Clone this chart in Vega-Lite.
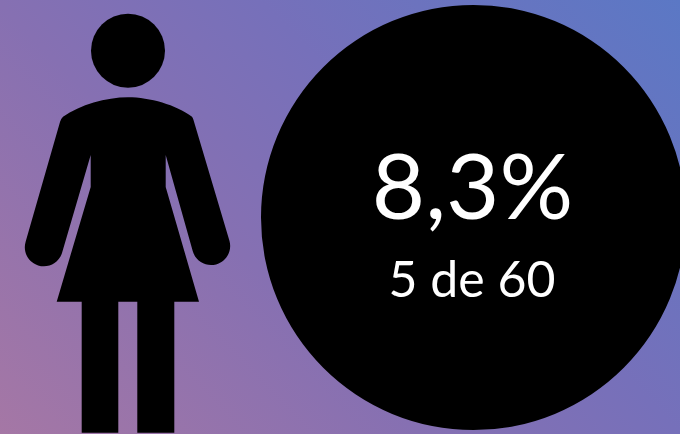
{
  "$schema": "https://vega.github.io/schema/vega-lite/v6.json",
  "width": 680,
  "height": 434,
  "padding": 0,
  "autosize": "none",
  "view": {"stroke": null},
  "config": {"axis": {"disable": true}},
  "datasets": {
    "icon": [{"part": "body", "x": 128, "y": 217}],
    "head": [{"part": "head", "x": 128, "y": 50.7}],
    "disc": [{"part": "disc", "x": 473.5, "y": 217.5}],
    "big": [{"label": "8,3%", "x": 472.5, "y": 219}],
    "small": [{"label": "5 de 60", "x": 472, "y": 297}]
  },
  "encoding": {
    "x": {"field": "x", "type": "quantitative", "scale": {"domain": [0, 680], "nice": false, "zero": false}, "axis": null},
    "y": {"field": "y", "type": "quantitative", "scale": {"domain": [434, 0], "nice": false, "zero": false}, "axis": null}
  },
  "layer": [
    {
      "data": {"values": [{"part": "background"}]},
      "mark": {
        "type": "rect",
        "color": {
          "gradient": "linear",
          "x1": 0, "y1": 1, "x2": 1.17, "y2": 0.275,
          "stops": [
            {"offset": 0, "color": "#a577a5"},
            {"offset": 0.38, "color": "#8670b2"},
            {"offset": 0.617, "color": "#7670ba"},
            {"offset": 1, "color": "#5b78c5"}
          ]
        }
      },
      "encoding": {"x": null, "y": null}
    },
    {
      "data": {"name": "icon"},
      "mark": {
        "type": "point",
        "filled": true,
        "opacity": 1,
        "color": "#000000",
        "size": 4,
        "shape": "M-65 -100.3C-48 -112 -22 -119.7 0 -119.7C22 -119.7 48 -112 64 -100.3Q65 -99 65.5 -97L101.5 24A19 19 0 0 1 64.7 34L37.7 -62L37.7 -30L71 84.7L46.3 84.7L46.3 215.7L9.3 215.7L9.3 84.7L-9.7 84.7L-9.7 215.7L-46.3 215.7L-46.3 84.7L-71.3 84.7L-37.3 -30L-37.3 -62L-66 36A19 19 0 0 1 -102.3 24.5L-68 -95Q-67 -98.5 -65 -100.3Z"
      }
    },
    {
      "data": {"name": "head"},
      "mark": {"type": "point", "filled": true, "opacity": 1, "color": "#000000", "shape": "circle", "size": 5476}
    },
    {
      "data": {"name": "disc"},
      "mark": {"type": "point", "filled": true, "opacity": 1, "color": "#000000", "shape": "circle", "size": 180625}
    },
    {
      "data": {"name": "big"},
      "mark": {"type": "text", "color": "#ffffff", "font": "Lato", "fontSize": 92, "align": "center", "baseline": "alphabetic"},
      "encoding": {"text": {"field": "label"}}
    },
    {
      "data": {"name": "small"},
      "mark": {"type": "text", "color": "#ffffff", "font": "Lato", "fontSize": 50, "align": "center", "baseline": "alphabetic"},
      "encoding": {"text": {"field": "label"}}
    }
  ]
}
